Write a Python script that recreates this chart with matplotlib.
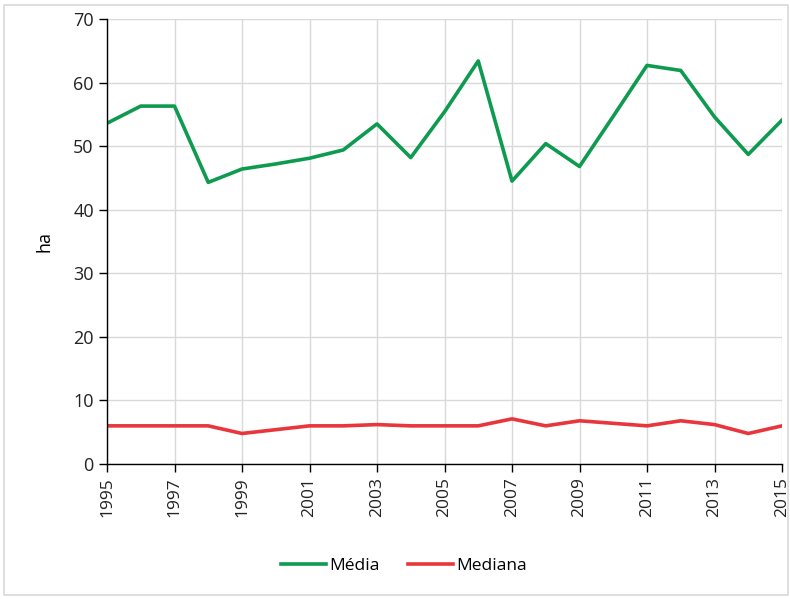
import matplotlib
matplotlib.use("Agg")
import matplotlib.pyplot as plt
from matplotlib.patches import Rectangle

years = list(range(1995, 2016))
media = [53.6, 56.3, 56.3, 44.3, 46.4, 47.2, 48.1, 49.4, 53.5, 48.2, 55.4, 63.4,
         44.5, 50.4, 46.8, 54.7, 62.7, 61.9, 54.6, 48.7, 54.1]
mediana = [6.0, 6.0, 6.0, 6.0, 4.8, 5.4, 6.0, 6.0, 6.2, 6.0, 6.0, 6.0,
           7.1, 6.0, 6.8, 6.4, 6.0, 6.8, 6.2, 4.8, 6.0]
xticks = list(range(1995, 2016, 2))
yticks = list(range(0, 71, 10))

plt.rcParams['font.family'] = ['Open Sans', 'DejaVu Sans']

fig = plt.figure(figsize=(7.9, 5.99), dpi=100)
fig.patches.append(Rectangle((4/790, 4/599), 784/790, 590/599, transform=fig.transFigure,
                             fill=False, edgecolor='#d9d9d9', linewidth=1.2))
ax = fig.add_axes([107/790, 1-464/599, 675/790, 445/599])

ax.plot(years, media, color='#0e9a4f', lw=2.6, label='Média', solid_joinstyle='round')
ax.plot(years, mediana, color='#e8363c', lw=2.6, label='Mediana', solid_joinstyle='round')

ax.set_xlim(1995, 2015)
ax.set_ylim(0, 70)
ax.set_xticks(xticks)
ax.set_xticklabels([str(y) for y in xticks], rotation=90, fontsize=12.5)
ax.set_yticks(yticks)
ax.set_yticklabels([str(y) for y in yticks], fontsize=13)
ax.grid(True, color='#d9d9d9', lw=1)
ax.set_axisbelow(True)
for s in ['top', 'right']:
    ax.spines[s].set_visible(False)
for s in ['left', 'bottom']:
    ax.spines[s].set_color('#000000')
    ax.spines[s].set_linewidth(1)
ax.tick_params(axis='both', direction='out', length=6, width=1, color='#000000', labelcolor='#222222')
ax.set_ylabel('ha', fontsize=13, labelpad=14)

fig.legend(loc='center', bbox_to_anchor=(404/790, 1-566/599), ncol=2, frameon=False,
           fontsize=12.5, handlelength=2.6, columnspacing=1.6, handletextpad=0.2)

fig.savefig('out.png', dpi=100, facecolor='white')
